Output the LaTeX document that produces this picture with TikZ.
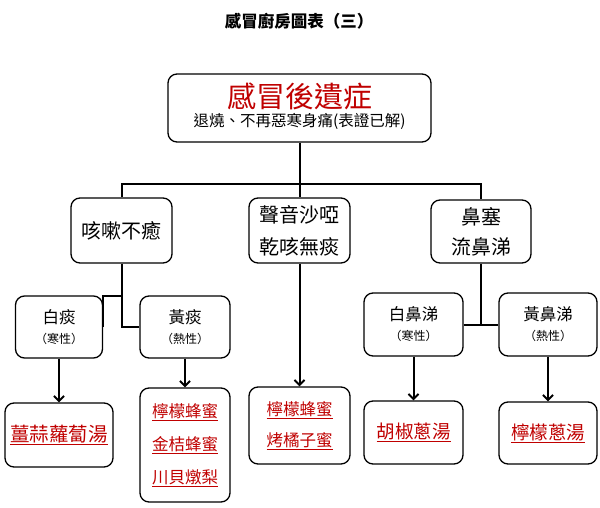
\documentclass[tikz,border=0pt]{standalone}
\usepackage{fontspec}
\setmainfont{Noto Sans CJK TC}
\usetikzlibrary{arrows.meta}
\definecolor{myred}{RGB}{192,0,0}
\tikzset{
  box/.style={draw=black, line width=1.3pt, rounded corners=9pt, inner sep=0pt, align=center},
  conn/.style={line width=2pt},
  arr/.style={line width=2pt, -{Straight Barb[length=5pt,width=10pt,line width=2pt]}},
}
\newcommand{\fs}[2]{\fontsize{#1}{#2}\selectfont}
\newcommand{\rt}[1]{\textcolor{myred}{\underline{#1}}}
\begin{document}
\begin{tikzpicture}[x=1pt,y=-1pt]
\useasboundingbox[fill=white] (0,0) rectangle (600,508);
% title
\node[font=\fs{16.5}{18}\bfseries] (title) at (299,21) {感冒廚房圖表（三）};
% main
\node[box, minimum width=263pt, minimum height=68pt] (main) at (299.5,108) {};
\node[font=\fs{29}{32}, text=myred] (mt) at (299.5,96) {感冒後遺症};
\node[font=\fs{15.5}{18}] (ms) at (299.5,121) {退燒、不再惡寒身痛(表證已解)};
% level 1
\node[box, minimum width=101pt, minimum height=65pt, font=\fs{20}{24}] (ke) at (121.5,230.5) {咳嗽不癒};
\node[box, minimum width=101pt, minimum height=65pt, font=\fs{20}{32}] (sheng) at (299.5,230.5) {聲音沙啞\\乾咳無痰};
\node[box, minimum width=100pt, minimum height=63pt, font=\fs{20}{30}] (bi) at (481,231.5) {鼻塞\\流鼻涕};
% level 2
\node[box, minimum width=87pt, minimum height=62pt, font=\fs{16.5}{20}] (baitan) at (59,327) {白痰\\{\fs{12}{14}（寒性）}};
\node[box, minimum width=90pt, minimum height=62pt, font=\fs{16.5}{20}] (huangtan) at (185,327) {黃痰\\{\fs{12}{14}（熱性）}};
\node[box, minimum width=99pt, minimum height=63pt, font=\fs{16.5}{20}] (baibi) at (413.5,324.5) {白鼻涕\\{\fs{12}{14}（寒性）}};
\node[box, minimum width=98pt, minimum height=63pt, font=\fs{16.5}{20}] (huangbi) at (548,324.5) {黃鼻涕\\{\fs{12}{14}（熱性）}};
% level 3
\node[box, minimum width=108pt, minimum height=64pt, font=\fs{19.5}{22}] (r1) at (59,435) {\rt{薑蒜蘿蔔湯}};
\node[box, minimum width=90pt, minimum height=114pt, font=\fs{16.5}{33}] (r2) at (185,445) {\rt{檸檬蜂蜜}\\\rt{金桔蜂蜜}\\\rt{川貝燉梨}};
\node[box, minimum width=101pt, minimum height=77pt, font=\fs{16.5}{31}] (r3) at (299.5,425.5) {\rt{檸檬蜂蜜}\\\rt{烤橘子蜜}};
\node[box, minimum width=99pt, minimum height=63pt, font=\fs{18.5}{22}] (r4) at (413.5,432.5) {\rt{胡椒蔥湯}};
\node[box, minimum width=98pt, minimum height=62pt, font=\fs{18.5}{22}] (r5) at (548,433) {\rt{檸檬蔥湯}};
% connectors
\coordinate (hl) at (121.5,184);
\coordinate (hr) at (481,184);
\coordinate (j1) at (121.5,296);
\draw[conn] (main.south) -- (sheng.north);
\draw[conn] (ke.north) -- (hl) -- (hr) -- (bi.north);
\draw[conn] (ke.south) |- (huangtan.west);
\draw[conn] (j1) -| (baitan.east);
\draw[conn] (bi.south) -- (bi.south |- baibi.east);
\draw[conn] (baibi.east) -- (huangbi.west);
\draw[arr] (baitan.south) -- (r1.north);
\draw[arr] (huangtan.south) -- (r2.north);
\draw[arr] (sheng.south) -- (r3.north);
\draw[arr] (baibi.south) -- (r4.north);
\draw[arr] (huangbi.south) -- (r5.north);
\end{tikzpicture}
\end{document}
